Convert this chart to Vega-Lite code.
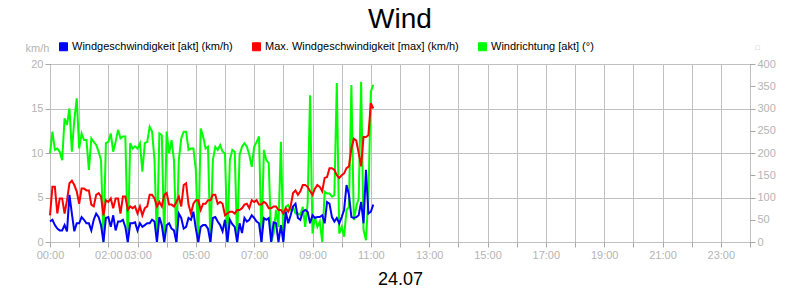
{
  "$schema": "https://vega.github.io/schema/vega-lite/v6.json",
  "autosize": "none",
  "width": 700,
  "height": 178,
  "padding": {"left": 50, "top": 64, "right": 50, "bottom": 58},
  "background": "white",
  "config": {
    "font": "Liberation Sans",
    "view": {"stroke": "black", "strokeWidth": 1}
  },
  "title": {"text": "Wind", "fontSize": 28, "font": "Liberation Sans", "fontWeight": "normal", "color": "black", "anchor": "middle", "offset": 7},
  "data": {"values": [
    {"m":0,"akt":2.3,"max":3.0,"dir":199},{"m":5,"akt":2.5,"max":6.2,"dir":248},{"m":10,"akt":1.9,"max":6.2,"dir":207},{"m":15,"akt":1.5,"max":3.2,"dir":210},
    {"m":20,"akt":1.3,"max":4.9,"dir":203},{"m":25,"akt":1.3,"max":4.9,"dir":184},{"m":30,"akt":1.9,"max":3.2,"dir":278},{"m":35,"akt":1.2,"max":4.7,"dir":263},
    {"m":40,"akt":5.3,"max":6.6,"dir":300},{"m":45,"akt":3.2,"max":6.9,"dir":203},{"m":50,"akt":1.2,"max":6.4,"dir":274},{"m":55,"akt":2.1,"max":5.7,"dir":323},
    {"m":60,"akt":2.1,"max":4.3,"dir":210},{"m":65,"akt":2.8,"max":6.0,"dir":244},{"m":70,"akt":2.5,"max":6.0,"dir":229},{"m":75,"akt":2.1,"max":5.8,"dir":229},
    {"m":80,"akt":2.1,"max":5.8,"dir":162},{"m":85,"akt":1.3,"max":4.2,"dir":233},{"m":90,"akt":2.5,"max":4.0,"dir":225},{"m":95,"akt":3.2,"max":5.3,"dir":218},
    {"m":100,"akt":2.8,"max":5.5,"dir":203},{"m":105,"akt":1.9,"max":5.1,"dir":184},{"m":110,"akt":0,"max":3.0,"dir":0},{"m":115,"akt":2.7,"max":4.7,"dir":222},
    {"m":120,"akt":2.8,"max":4.5,"dir":225},{"m":125,"akt":1.7,"max":4.9,"dir":244},{"m":130,"akt":3.0,"max":3.8,"dir":203},{"m":135,"akt":1.3,"max":4.9,"dir":225},
    {"m":140,"akt":2.3,"max":4.9,"dir":252},{"m":145,"akt":2.3,"max":3.2,"dir":233},{"m":150,"akt":2.5,"max":5.1,"dir":237},{"m":155,"akt":1.7,"max":5.1,"dir":237},
    {"m":160,"akt":0,"max":3.6,"dir":0},{"m":165,"akt":2.1,"max":4.0,"dir":222},{"m":170,"akt":2.1,"max":3.8,"dir":210},{"m":175,"akt":2.2,"max":4.0,"dir":215},
    {"m":180,"akt":1.3,"max":3.2,"dir":210},{"m":185,"akt":2.1,"max":4.0,"dir":222},{"m":190,"akt":1.7,"max":3.0,"dir":158},{"m":195,"akt":1.9,"max":3.8,"dir":222},
    {"m":200,"akt":2.1,"max":4.0,"dir":225},{"m":205,"akt":2.1,"max":5.3,"dir":259},{"m":210,"akt":2.5,"max":5.3,"dir":248},{"m":215,"akt":2.3,"max":4.9,"dir":184},
    {"m":220,"akt":0,"max":4.0,"dir":0},{"m":225,"akt":2.8,"max":4.5,"dir":244},{"m":230,"akt":1.9,"max":4.0,"dir":240},{"m":235,"akt":0,"max":5.3,"dir":0},
    {"m":240,"akt":1.9,"max":5.5,"dir":248},{"m":245,"akt":2.1,"max":4.2,"dir":199},{"m":250,"akt":1.5,"max":4.2,"dir":229},{"m":255,"akt":1.3,"max":4.0,"dir":184},
    {"m":260,"akt":0,"max":4.5,"dir":0},{"m":265,"akt":3.2,"max":5.1,"dir":184},{"m":270,"akt":2.7,"max":4.0,"dir":233},{"m":275,"akt":1.5,"max":6.4,"dir":248},
    {"m":280,"akt":1.7,"max":6.6,"dir":248},{"m":285,"akt":2.7,"max":4.2,"dir":207},{"m":290,"akt":2.5,"max":3.2,"dir":210},{"m":295,"akt":3.4,"max":4.3,"dir":210},
    {"m":300,"akt":1.5,"max":4.7,"dir":162},{"m":305,"akt":0,"max":4.7,"dir":0},{"m":310,"akt":1.7,"max":3.6,"dir":255},{"m":315,"akt":1.9,"max":4.3,"dir":237},
    {"m":320,"akt":1.9,"max":4.3,"dir":210},{"m":325,"akt":1.5,"max":4.7,"dir":214},{"m":330,"akt":0,"max":4.7,"dir":0},{"m":335,"akt":2.7,"max":5.3,"dir":184},
    {"m":340,"akt":2.8,"max":5.3,"dir":214},{"m":345,"akt":2.3,"max":4.3,"dir":207},{"m":350,"akt":1.9,"max":4.5,"dir":218},{"m":355,"akt":1.2,"max":4.3,"dir":203},
    {"m":360,"akt":2.5,"max":3.0,"dir":199},{"m":365,"akt":0,"max":3.2,"dir":0},{"m":370,"akt":2.5,"max":3.4,"dir":184},{"m":375,"akt":2.0,"max":3.4,"dir":207},
    {"m":380,"akt":1.7,"max":3.2,"dir":203},{"m":385,"akt":0,"max":3.6,"dir":0},{"m":390,"akt":2.1,"max":3.6,"dir":196},{"m":395,"akt":1.0,"max":3.8,"dir":214},
    {"m":400,"akt":2.7,"max":4.2,"dir":222},{"m":405,"akt":2.3,"max":4.3,"dir":214},{"m":410,"akt":2.5,"max":3.8,"dir":196},{"m":415,"akt":3.0,"max":4.7,"dir":169},
    {"m":420,"akt":2.7,"max":4.5,"dir":214},{"m":425,"akt":2.3,"max":4.7,"dir":225},{"m":430,"akt":2.1,"max":4.2,"dir":237},{"m":435,"akt":0,"max":4.2,"dir":0},
    {"m":440,"akt":2.7,"max":4.5,"dir":207},{"m":445,"akt":2.5,"max":4.3,"dir":184},{"m":450,"akt":2.7,"max":3.8,"dir":177},{"m":455,"akt":0,"max":3.8,"dir":0},
    {"m":460,"akt":2.2,"max":4.0,"dir":19},{"m":465,"akt":2.1,"max":4.0,"dir":72},{"m":470,"akt":0,"max":3.6,"dir":34},{"m":475,"akt":1.9,"max":3.6,"dir":225},
    {"m":480,"akt":0,"max":3.2,"dir":4},{"m":485,"akt":3.4,"max":3.8,"dir":79},{"m":490,"akt":2.1,"max":3.4,"dir":83},{"m":495,"akt":3.0,"max":4.0,"dir":72},
    {"m":500,"akt":4.0,"max":5.5,"dir":79},{"m":505,"akt":4.3,"max":5.8,"dir":64},{"m":510,"akt":2.7,"max":5.3,"dir":64},{"m":515,"akt":2.5,"max":5.7,"dir":61},
    {"m":520,"akt":3.4,"max":6.4,"dir":79},{"m":525,"akt":3.6,"max":6.4,"dir":34},{"m":530,"akt":3.4,"max":6.2,"dir":87},{"m":535,"akt":2.1,"max":5.7,"dir":330},
    {"m":540,"akt":3.0,"max":5.3,"dir":19},{"m":545,"akt":2.7,"max":6.0,"dir":57},{"m":550,"akt":2.8,"max":6.4,"dir":34},{"m":555,"akt":2.8,"max":6.2,"dir":46},
    {"m":560,"akt":3.0,"max":5.7,"dir":0},{"m":565,"akt":2.1,"max":7.2,"dir":113},{"m":570,"akt":4.5,"max":7.3,"dir":109},{"m":575,"akt":4.3,"max":8.3,"dir":109},
    {"m":580,"akt":2.8,"max":8.3,"dir":102},{"m":585,"akt":2.3,"max":8.1,"dir":105},{"m":590,"akt":2.7,"max":7.5,"dir":357},{"m":595,"akt":2.1,"max":7.2,"dir":19},
    {"m":600,"akt":2.8,"max":7.5,"dir":34},{"m":605,"akt":3.6,"max":7.7,"dir":12},{"m":610,"akt":6.4,"max":8.3,"dir":72},{"m":615,"akt":5.3,"max":8.5,"dir":79},
    {"m":620,"akt":2.8,"max":10.5,"dir":353},{"m":625,"akt":2.7,"max":11.6,"dir":49},{"m":630,"akt":2.8,"max":11.4,"dir":79},{"m":635,"akt":3.0,"max":10.0,"dir":98},
    {"m":640,"akt":4.5,"max":8.5,"dir":360},{"m":645,"akt":2.1,"max":11.8,"dir":27},{"m":650,"akt":8.1,"max":11.8,"dir":4},{"m":655,"akt":3.2,"max":12.0,"dir":102},
    {"m":660,"akt":3.4,"max":15.6,"dir":338},{"m":665,"akt":4.2,"max":15.0,"dir":353}
  ]},
  "encoding": {
    "x": {
      "field": "m", "type": "quantitative",
      "scale": {"domain": [0, 1440], "nice": false, "zero": false},
      "axis": {
        "values": [0,60,120,180,240,300,360,420,480,540,600,660,720,780,840,900,960,1020,1080,1140,1200,1260,1320,1380,1440],
        "labelExpr": "indexof([0,120,180,300,420,540,660,780,900,1020,1140,1260,1380], datum.value) >= 0 ? ((datum.value < 600 ? '0' : '') + (datum.value / 60) + ':00') : ''",
        "labelOverlap": false, "labelFlush": false,
        "grid": true, "gridColor": "#c0c0c0", "gridWidth": 1,
        "domain": false, "ticks": true, "tickColor": "#a8a8a8", "tickSize": 5,
        "labelColor": "#b4b4b4", "labelFontSize": 11, "labelFont": "Liberation Sans", "labelPadding": 2,
        "title": "24.07", "titleFontSize": 18, "titleFontWeight": "normal", "titleColor": "black", "titleFont": "Liberation Sans", "titlePadding": 10
      }
    }
  },
  "layer": [
    {
      "mark": {"type": "line", "strokeWidth": 2},
      "encoding": {
        "y": {
          "field": "dir", "type": "quantitative",
          "scale": {"domain": [0, 400], "nice": false},
          "axis": {
            "orient": "right", "values": [0,50,100,150,200,250,300,350,400],
            "grid": false, "domain": false, "tickColor": "#a8a8a8", "tickSize": 5,
            "labelColor": "#b4b4b4", "labelFontSize": 11, "labelFont": "Liberation Sans", "labelPadding": 2,
            "title": "□", "titleAngle": 0, "titleFontSize": 7, "titleColor": "#b4b4b4", "titleFontWeight": "normal",
            "titleX": 7, "titleY": -17, "titleAlign": "center", "titleBaseline": "middle"
          }
        },
        "color": {
          "datum": "Windrichtung [akt] (°)",
          "scale": {"domain": ["Windgeschwindigkeit [akt] (km/h)", "Max. Windgeschwindigkeit [max] (km/h)", "Windrichtung [akt] (°)"], "range": ["#0000ff", "#ff0000", "#00ff00"]},
          "legend": {
            "orient": "none", "legendX": 8, "legendY": -23, "direction": "horizontal", "title": null,
            "symbolType": "square", "symbolSize": 64, "labelFontSize": 11, "labelFont": "Liberation Sans", "labelColor": "black",
            "labelLimit": 400, "columnPadding": 17, "labelOffset": 3, "padding": 0,
            "encode": {"symbols": {"update": {"fill": {"scale": "color", "field": "value"}, "stroke": {"value": "black"}, "strokeWidth": {"value": 1}, "opacity": {"value": 1}}}}
          }
        }
      }
    },
    {
      "layer": [
        {
          "mark": {"type": "line", "strokeWidth": 2},
          "encoding": {
            "y": {
              "field": "max", "type": "quantitative",
              "scale": {"domain": [0, 20], "nice": false},
              "axis": {
                "orient": "left", "values": [0,5,10,15,20],
                "grid": true, "gridColor": "#c0c0c0", "domain": false, "tickColor": "#a8a8a8", "tickSize": 5,
                "labelColor": "#b4b4b4", "labelFontSize": 11, "labelFont": "Liberation Sans", "labelPadding": 2,
                "title": "km/h", "titleAngle": 0, "titleFontSize": 11, "titleColor": "#b4b4b4", "titleFontWeight": "normal",
                "titleX": -13, "titleY": -16, "titleAlign": "center", "titleBaseline": "middle"
              }
            },
            "color": {"datum": "Max. Windgeschwindigkeit [max] (km/h)"}
          }
        },
        {
          "mark": {"type": "line", "strokeWidth": 2},
          "encoding": {
            "y": {"field": "akt", "type": "quantitative", "scale": {"domain": [0, 20], "nice": false}},
            "color": {"datum": "Windgeschwindigkeit [akt] (km/h)"}
          }
        }
      ]
    }
  ],
  "resolve": {"scale": {"y": "independent"}}
}
